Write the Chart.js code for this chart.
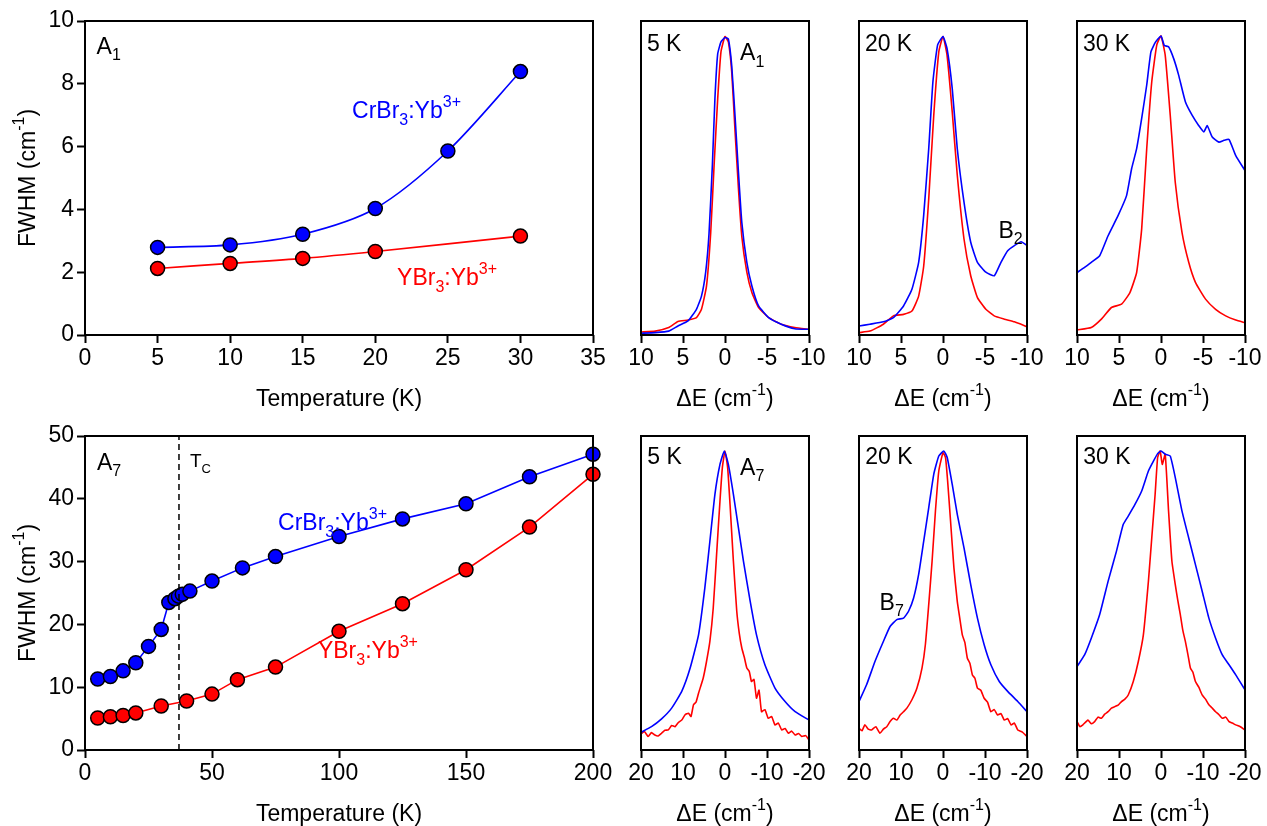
<!DOCTYPE html>
<html>
<head>
<meta charset="utf-8">
<script src="https://cdn.jsdelivr.net/npm/chart.js@4"></script>
<style>
html, body { margin: 0; padding: 0; background: #fff; overflow: hidden; width: 1267px; height: 826px; }
canvas { position: absolute; }
</style>
</head>
<body>
<canvas id="fwhmA1"></canvas>
<canvas id="fwhmA7"></canvas>
<canvas id="a1k5"></canvas>
<canvas id="a1k20"></canvas>
<canvas id="a1k30"></canvas>
<canvas id="a7k5"></canvas>
<canvas id="a7k20"></canvas>
<canvas id="a7k30"></canvas>
<script>
// FWHM of A1 line vs temperature
const tempA1Cr = [5, 10, 15, 20, 25, 30];
const fwhmA1Cr = [2.79, 2.87, 3.21, 4.03, 5.86, 8.39];
const tempA1Y = [5, 10, 15, 20, 30];
const fwhmA1Y = [2.12, 2.28, 2.44, 2.66, 3.15];

// FWHM of A7 line vs temperature
const tempA7Cr = [5, 10, 15, 20, 25, 30, 33, 35.4, 36.8, 38.3, 41.3, 50, 62, 75, 100, 125, 150, 175, 200];
const fwhmA7Cr = [11.3, 11.7, 12.6, 13.9, 16.5, 19.2, 23.5, 24.1, 24.5, 24.8, 25.3, 26.9, 29.0, 30.8, 34.0, 36.8, 39.2, 43.5, 47.1];
const tempA7Y = [5, 10, 15, 20, 30, 40, 50, 60, 75, 100, 125, 150, 175, 200];
const fwhmA7Y = [5.1, 5.3, 5.5, 5.9, 7.0, 7.8, 8.9, 11.2, 13.2, 18.9, 23.3, 28.7, 35.5, 43.9];
const tcTemp = 37;

// normalised spectra, A1 region
const dE_A1_5_cr = [10, 8.3, 6.7, 5.6, 4.4, 3.4, 2.8, 2.3, 1.9, 1.5, 1.2, 0.87, 0.48, 0, -0.4, -0.8, -1.2, -1.6, -2.0, -2.6, -3.2, -4.0, -5.2, -6.7, -8.3, -10];
const int_A1_5_cr = [0.006, 0.008, 0.013, 0.03, 0.047, 0.086, 0.13, 0.21, 0.34, 0.57, 0.79, 0.94, 0.98, 0.995, 0.99, 0.9, 0.73, 0.545, 0.377, 0.243, 0.164, 0.097, 0.058, 0.036, 0.021, 0.019];
const dE_A1_5_y = [10, 8.3, 6.7, 5.6, 4.4, 3.4, 2.8, 2.2, 1.7, 1.3, 0.87, 0.48, 0, -0.4, -0.8, -1.2, -1.6, -2.0, -2.6, -3.2, -4.0, -5.2, -6.7, -8.3, -10];
const int_A1_5_y = [0.01, 0.013, 0.025, 0.045, 0.05, 0.058, 0.086, 0.164, 0.343, 0.567, 0.79, 0.947, 0.998, 0.98, 0.88, 0.68, 0.49, 0.33, 0.21, 0.142, 0.092, 0.058, 0.036, 0.025, 0.019];

const dE_A1_20_cr = [10, 8.7, 7.1, 5.9, 4.7, 3.7, 2.9, 2.3, 1.7, 1.2, 0.64, 0, -0.48, -1.1, -1.7, -2.5, -3.3, -4.1, -5.1, -6.1, -6.9, -7.7, -8.5, -9.3, -10];
const int_A1_20_cr = [0.03, 0.036, 0.044, 0.058, 0.097, 0.153, 0.243, 0.4, 0.623, 0.847, 0.97, 0.998, 0.958, 0.824, 0.623, 0.444, 0.31, 0.243, 0.21, 0.198, 0.243, 0.282, 0.299, 0.312, 0.299];
const dE_A1_20_y = [10, 8.7, 7.1, 5.9, 4.7, 3.7, 2.9, 2.3, 1.7, 1.1, 0.5, 0, -0.48, -1.1, -1.7, -2.5, -3.3, -4.1, -5.1, -6.1, -7.3, -8.5, -10];
const int_A1_20_y = [0.008, 0.013, 0.036, 0.064, 0.069, 0.08, 0.13, 0.23, 0.455, 0.735, 0.947, 0.998, 0.936, 0.746, 0.534, 0.321, 0.198, 0.125, 0.086, 0.064, 0.053, 0.044, 0.028];

const dE_A1_30_cr = [10, 9.1, 8.3, 7.3, 6.3, 5.1, 4.1, 3.5, 2.9, 2.3, 1.7, 1.2, 0.64, 0, -0.4, -0.9, -1.5, -2.1, -2.9, -3.7, -4.5, -5.1, -5.5, -6.1, -6.9, -7.5, -8.1, -8.9, -10];
const int_A1_30_cr = [0.209, 0.226, 0.243, 0.265, 0.332, 0.4, 0.466, 0.556, 0.623, 0.724, 0.836, 0.947, 0.98, 1.0, 0.968, 0.964, 0.925, 0.869, 0.78, 0.735, 0.7, 0.679, 0.7, 0.662, 0.645, 0.651, 0.654, 0.6, 0.55];
const dE_A1_30_y = [10, 8.3, 7.1, 5.9, 4.7, 3.7, 2.9, 2.3, 1.7, 1.1, 0.5, 0, -0.5, -1.1, -1.7, -2.5, -3.3, -4.1, -5.3, -6.5, -7.7, -8.9, -10];
const int_A1_30_y = [0.017, 0.025, 0.053, 0.092, 0.103, 0.142, 0.209, 0.355, 0.623, 0.847, 0.97, 1.0, 0.936, 0.735, 0.51, 0.343, 0.243, 0.176, 0.12, 0.086, 0.064, 0.05, 0.041];

// normalised spectra, A7 region
const dE_A7_5_cr = [20, 17.5, 15.1, 12.7, 10.3, 8.3, 6.3, 4.8, 3.6, 2.4, 1.2, 0.16, -0.8, -2.0, -3.2, -4.4, -6.0, -7.5, -9.5, -11.9, -14.3, -16.7, -20];
const int_A7_5_cr = [0.059, 0.078, 0.104, 0.14, 0.196, 0.274, 0.385, 0.542, 0.698, 0.855, 0.955, 1.0, 0.955, 0.855, 0.743, 0.631, 0.497, 0.385, 0.285, 0.207, 0.162, 0.128, 0.1];
const dE_A7_5_y = [20, 19.2, 18.3, 17.5, 16.7, 15.9, 15.1, 14.3, 13.5, 12.7, 11.9, 11.1, 10.3, 9.5, 8.7, 8.1, 7.5, 6.9, 6.3, 5.2, 4.4, 3.6, 2.8, 2.0, 1.2, 0.63, 0, -0.63, -1.2, -2.0, -2.8, -3.4, -4.0, -4.6, -5.2, -5.8, -6.3, -6.9, -7.5, -8.1, -8.7, -9.5, -10.3, -11.1, -11.9, -12.7, -13.5, -14.3, -15.1, -15.9, -16.7, -17.5, -18.3, -19.2, -20];
const int_A7_5_y = [0.053, 0.062, 0.045, 0.058, 0.05, 0.047, 0.056, 0.066, 0.067, 0.082, 0.078, 0.092, 0.1, 0.118, 0.123, 0.112, 0.151, 0.16, 0.19, 0.24, 0.296, 0.363, 0.475, 0.654, 0.832, 0.944, 1.0, 0.944, 0.821, 0.631, 0.464, 0.39, 0.341, 0.31, 0.274, 0.262, 0.229, 0.236, 0.173, 0.2, 0.128, 0.135, 0.106, 0.112, 0.084, 0.09, 0.067, 0.072, 0.056, 0.063, 0.05, 0.055, 0.045, 0.048, 0.034];

const dE_A7_20_cr = [20, 18.2, 16.2, 14.2, 12.6, 11.0, 9.4, 8.2, 7.0, 5.8, 4.6, 3.4, 2.2, 1.0, -0.2, -1.0, -2.2, -3.4, -5.0, -6.6, -8.2, -9.8, -11.4, -13.4, -15.4, -17.8, -20];
const int_A7_20_cr = [0.162, 0.218, 0.296, 0.363, 0.413, 0.436, 0.441, 0.464, 0.508, 0.587, 0.698, 0.81, 0.922, 0.983, 1.0, 0.978, 0.888, 0.788, 0.676, 0.553, 0.441, 0.352, 0.285, 0.229, 0.196, 0.162, 0.128];
const dE_A7_20_y = [20, 19.3, 18.6, 17.8, 17.0, 16.0, 15.0, 14.2, 13.4, 12.6, 11.8, 11.0, 10.2, 9.4, 8.6, 7.4, 6.2, 5.0, 4.2, 3.4, 2.6, 1.8, 1.0, 0, -0.6, -1.1, -1.8, -2.6, -3.4, -4.0, -4.6, -5.2, -5.8, -6.4, -7.0, -7.6, -8.2, -9.0, -9.8, -10.6, -11.4, -12.2, -13.0, -13.8, -14.6, -15.4, -16.2, -17.0, -17.8, -18.9, -20];
const int_A7_20_y = [0.073, 0.064, 0.084, 0.07, 0.067, 0.078, 0.056, 0.07, 0.078, 0.095, 0.106, 0.1, 0.117, 0.128, 0.14, 0.168, 0.207, 0.274, 0.352, 0.486, 0.631, 0.799, 0.933, 0.994, 0.978, 0.9, 0.765, 0.609, 0.497, 0.44, 0.385, 0.36, 0.307, 0.29, 0.251, 0.24, 0.207, 0.2, 0.173, 0.16, 0.128, 0.135, 0.117, 0.122, 0.1, 0.105, 0.084, 0.09, 0.067, 0.06, 0.045];

const dE_A7_30_cr = [20, 18.2, 16.6, 14.6, 12.6, 10.6, 9.0, 7.8, 6.2, 4.6, 3.0, 1.8, 0.8, 0, -1.0, -2.2, -3.4, -5.0, -6.6, -8.2, -9.8, -11.4, -13.0, -14.6, -16.2, -17.8, -20];
const int_A7_30_cr = [0.279, 0.318, 0.374, 0.453, 0.564, 0.665, 0.754, 0.782, 0.821, 0.866, 0.933, 0.966, 0.991, 1.0, 0.989, 0.983, 0.911, 0.799, 0.709, 0.62, 0.531, 0.441, 0.374, 0.318, 0.285, 0.251, 0.201];
const dE_A7_30_y = [20, 19.3, 18.6, 17.4, 16.6, 15.8, 15.0, 14.2, 13.4, 12.6, 11.8, 11.0, 10.2, 9.4, 8.6, 7.8, 6.6, 5.4, 4.2, 3.0, 2.2, 1.4, 0.8, 0.2, -0.3, -1.0, -1.8, -2.6, -3.4, -4.0, -4.6, -5.2, -5.8, -6.4, -7.0, -7.6, -8.2, -9.0, -9.8, -10.6, -11.4, -12.2, -13.0, -13.8, -14.6, -15.4, -16.2, -17.0, -17.8, -18.9, -20];
const int_A7_30_y = [0.095, 0.078, 0.084, 0.1, 0.088, 0.095, 0.11, 0.106, 0.12, 0.128, 0.14, 0.145, 0.15, 0.162, 0.17, 0.184, 0.229, 0.296, 0.385, 0.564, 0.709, 0.855, 0.978, 1.0, 0.955, 0.989, 0.799, 0.631, 0.553, 0.5, 0.453, 0.4, 0.363, 0.32, 0.274, 0.26, 0.229, 0.21, 0.184, 0.17, 0.151, 0.14, 0.128, 0.118, 0.106, 0.11, 0.095, 0.09, 0.084, 0.078, 0.067];

const FONT = "'Liberation Sans', Arial, sans-serif";
const FS = 23;
const BLUE = '#0000ff';
const RED = '#ff0000';

function xy(xs, ys) {
    return xs.map((x, i) => ({ x: x, y: ys[i] }));
}

// text with sub/superscripts, parts = [[text, 'sub'|'sup'|undefined], ...]
function drawRich(ctx, parts, x, y, size, color, align) {
    const segs = parts.map(([t, k]) => {
        const s = k ? Math.round(size * 0.68) : size;
        const dy = k === 'sup' ? -size * 0.48 : k === 'sub' ? size * 0.28 : 0;
        ctx.font = s + 'px ' + FONT;
        return { t, s, dy, w: ctx.measureText(t).width };
    });
    const total = segs.reduce((a, b) => a + b.w, 0);
    let cx = align === 'center' ? x - total / 2 : x;
    ctx.fillStyle = color;
    ctx.textAlign = 'left';
    ctx.textBaseline = 'alphabetic';
    segs.forEach(sg => {
        ctx.font = sg.s + 'px ' + FONT;
        ctx.fillText(sg.t, cx, y + sg.dy);
        cx += sg.w;
    });
}

const decor = {
    id: 'decor',
    afterDraw(chart, args, o) {
        const { ctx, chartArea: a, scales } = chart;
        ctx.save();
        ctx.strokeStyle = '#000';
        ctx.lineWidth = 2;
        ctx.strokeRect(a.left, a.top, a.right - a.left, a.bottom - a.top);
        (o.notes || []).forEach(n => {
            drawRich(ctx, n.parts, scales.x.getPixelForValue(n.x), scales.y.getPixelForValue(n.y),
                n.size || FS, n.color || '#000', 'left');
        });
        if (o.xTitle) drawRich(ctx, o.xTitle, (a.left + a.right) / 2, a.bottom + 71, FS, '#000', 'center');
        if (o.yTitle) {
            ctx.translate(35, (a.top + a.bottom) / 2);
            ctx.rotate(-Math.PI / 2);
            drawRich(ctx, o.yTitle, 0, 0, FS, '#000', 'center');
        }
        ctx.restore();
    }
};

const tickGrid = {
    drawOnChartArea: false,
    drawTicks: true,
    tickLength: 8,
    tickWidth: 2,
    tickColor: '#000',
    color: '#000'
};
const tickFont = { family: FONT, size: FS };

function build(id, box, area, cfg) {
    const cv = document.getElementById(id);
    cv.style.left = box.x + 'px';
    cv.style.top = box.y + 'px';
    cv.style.width = box.w + 'px';
    cv.style.height = box.h + 'px';
    cv.width = box.w;
    cv.height = box.h;

    const yScale = cfg.yShow ? {
        type: 'linear', min: cfg.yMin, max: cfg.yMax,
        ticks: { stepSize: cfg.yStep, font: tickFont, color: '#000', padding: 3 },
        grid: tickGrid,
        border: { display: false },
        afterFit: s => { s.width = area.l; }
    } : { display: false, min: 0, max: 1.05 };

    return new Chart(cv, {
        type: 'line',
        data: { datasets: cfg.datasets },
        options: {
            responsive: false,
            animation: false,
            layout: { padding: { left: cfg.yShow ? 0 : area.l, right: box.w - area.r, top: area.t, bottom: 0 } },
            plugins: {
                legend: { display: false },
                tooltip: { enabled: false },
                decor: { notes: cfg.notes, xTitle: cfg.xTitle, yTitle: cfg.yTitle }
            },
            scales: {
                x: {
                    type: 'linear', min: cfg.xMin, max: cfg.xMax, reverse: !!cfg.reverse,
                    ticks: { stepSize: cfg.xStep, font: tickFont, color: '#000', autoSkip: false, maxRotation: 0, padding: 2 },
                    grid: tickGrid,
                    border: { display: false },
                    afterFit: s => { s.height = box.h - area.b; }
                },
                y: yScale
            }
        },
        plugins: [decor]
    });
}

function fwhmSet(xs, ys, color, tension) {
    return {
        data: xy(xs, ys),
        borderColor: color,
        borderWidth: 1.6,
        backgroundColor: color,
        pointBackgroundColor: color,
        pointBorderColor: '#000',
        pointBorderWidth: 1.5,
        pointRadius: 7,
        tension: tension,
        clip: false
    };
}

function specSet(xs, ys, color) {
    return {
        data: xy(xs, ys),
        borderColor: color,
        borderWidth: 1.6,
        pointRadius: 0,
        tension: 0.15,
        fill: false
    };
}

const compCr = [['CrBr'], ['3', 'sub'], [':Yb'], ['3+', 'sup']];
const compY = [['YBr'], ['3', 'sub'], [':Yb'], ['3+', 'sup']];
const dETitle = [['\u0394E (cm'], ['-1', 'sup'], [')']];
const fwhmTitle = [['FWHM (cm'], ['-1', 'sup'], [')']];
const tempTitle = [['Temperature (K)']];

// left-hand FWHM panels
build('fwhmA1', { x: 0, y: 0, w: 616, h: 413 }, { l: 85, t: 21, r: 593, b: 335 }, {
    yShow: true, xMin: 0, xMax: 35, xStep: 5, yMin: 0, yMax: 10, yStep: 2,
    datasets: [fwhmSet(tempA1Cr, fwhmA1Cr, BLUE, 0.3), fwhmSet(tempA1Y, fwhmA1Y, RED, 0.3)],
    notes: [
        { x: 0.8, y: 8.95, parts: [['A'], ['1', 'sub']] },
        { x: 18.4, y: 6.9, parts: compCr, color: BLUE },
        { x: 21.5, y: 1.58, parts: compY, color: RED }
    ],
    xTitle: tempTitle, yTitle: fwhmTitle
});

build('fwhmA7', { x: 0, y: 413, w: 616, h: 413 }, { l: 85, t: 23, r: 593, b: 337 }, {
    yShow: true, xMin: 0, xMax: 200, xStep: 50, yMin: 0, yMax: 50, yStep: 10,
    datasets: [
        {
            data: [{ x: tcTemp, y: 0 }, { x: tcTemp, y: 50 }],
            borderColor: '#000', borderWidth: 1.5, borderDash: [6, 4], pointRadius: 0
        },
        fwhmSet(tempA7Cr, fwhmA7Cr, BLUE, 0),
        fwhmSet(tempA7Y, fwhmA7Y, RED, 0)
    ],
    notes: [
        { x: 4.7, y: 44.6, parts: [['A'], ['7', 'sub']] },
        { x: 41.3, y: 45.0, parts: [['T'], ['C', 'sub']], size: 19 },
        { x: 76, y: 35.0, parts: compCr, color: BLUE },
        { x: 91.7, y: 14.6, parts: compY, color: RED }
    ],
    xTitle: tempTitle, yTitle: fwhmTitle
});

// spectra panels
const specLeft = [641, 859, 1077];
const topArea = { l: 25, t: 21, r: 193, b: 335 };
const botArea = { l: 25, t: 23, r: 193, b: 337 };

build('a1k5', { x: specLeft[0] - 25, y: 0, w: 218, h: 413 }, topArea, {
    xMin: -10, xMax: 10, xStep: 5, reverse: true,
    datasets: [specSet(dE_A1_5_cr, int_A1_5_cr, BLUE), specSet(dE_A1_5_y, int_A1_5_y, RED)],
    notes: [
        { x: 9.3, y: 0.95, parts: [['5 K']] },
        { x: -1.8, y: 0.918, parts: [['A'], ['1', 'sub']] }
    ],
    xTitle: dETitle
});

build('a1k20', { x: specLeft[1] - 25, y: 0, w: 218, h: 413 }, topArea, {
    xMin: -10, xMax: 10, xStep: 5, reverse: true,
    datasets: [specSet(dE_A1_20_cr, int_A1_20_cr, BLUE), specSet(dE_A1_20_y, int_A1_20_y, RED)],
    notes: [
        { x: 9.3, y: 0.95, parts: [['20 K']] },
        { x: -6.6, y: 0.325, parts: [['B'], ['2', 'sub']] }
    ],
    xTitle: dETitle
});

build('a1k30', { x: specLeft[2] - 25, y: 0, w: 218, h: 413 }, topArea, {
    xMin: -10, xMax: 10, xStep: 5, reverse: true,
    datasets: [specSet(dE_A1_30_cr, int_A1_30_cr, BLUE), specSet(dE_A1_30_y, int_A1_30_y, RED)],
    notes: [{ x: 9.3, y: 0.95, parts: [['30 K']] }],
    xTitle: dETitle
});

build('a7k5', { x: specLeft[0] - 25, y: 413, w: 218, h: 413 }, botArea, {
    xMin: -20, xMax: 20, xStep: 10, reverse: true,
    datasets: [specSet(dE_A7_5_cr, int_A7_5_cr, BLUE), specSet(dE_A7_5_y, int_A7_5_y, RED)],
    notes: [
        { x: 18.5, y: 0.955, parts: [['5 K']] },
        { x: -3.6, y: 0.92, parts: [['A'], ['7', 'sub']] }
    ],
    xTitle: dETitle
});

build('a7k20', { x: specLeft[1] - 25, y: 413, w: 218, h: 413 }, botArea, {
    xMin: -20, xMax: 20, xStep: 10, reverse: true,
    datasets: [specSet(dE_A7_20_cr, int_A7_20_cr, BLUE), specSet(dE_A7_20_y, int_A7_20_y, RED)],
    notes: [
        { x: 18.5, y: 0.955, parts: [['20 K']] },
        { x: 15.1, y: 0.468, parts: [['B'], ['7', 'sub']] }
    ],
    xTitle: dETitle
});

build('a7k30', { x: specLeft[2] - 25, y: 413, w: 218, h: 413 }, botArea, {
    xMin: -20, xMax: 20, xStep: 10, reverse: true,
    datasets: [specSet(dE_A7_30_cr, int_A7_30_cr, BLUE), specSet(dE_A7_30_y, int_A7_30_y, RED)],
    notes: [{ x: 18.5, y: 0.955, parts: [['30 K']] }],
    xTitle: dETitle
});
</script>
</body>
</html>
